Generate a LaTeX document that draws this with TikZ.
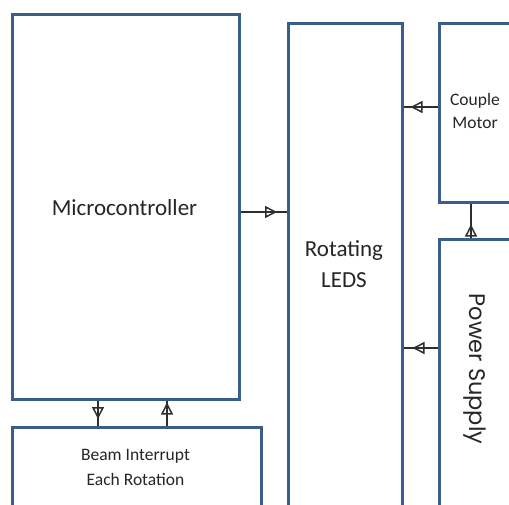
\documentclass[tikz,border=0pt]{standalone}
\usepackage{fontspec}
\setmainfont{Carlito}
\newfontfamily\psfont{Poppins}
\usetikzlibrary{arrows.meta,decorations.markings}
\definecolor{boxblue}{HTML}{3A5D8C}
\definecolor{linegray}{HTML}{2E2E2E}
\definecolor{txtgray}{HTML}{262626}
\tikzset{
  blockbox/.style={draw=boxblue, line width=2.5pt, fill=none, minimum width=#1, inner sep=0pt, anchor=north west},
  lbl/.style={text=txtgray, inner sep=0pt, align=center},
  conn/.style={draw=linegray, line width=1.6pt, postaction={decorate},
    decoration={markings, mark=at position #1 with {\arrow{Triangle[open, length=12pt, width=12pt, line width=1.5pt]}}}},
}
\begin{document}
\begin{tikzpicture}[x=1pt,y=-1pt]
\useasboundingbox (0,0) rectangle (509,504);
\fill[white] (0,0) rectangle (509,504);
\clip (0,0) rectangle (509,504);
% boxes
\node[blockbox=227pt, minimum height=385pt] (mc) at (11,13) {};
\node[blockbox=114pt, minimum height=510pt] (led) at (287,22) {};
\node[blockbox=100pt, minimum height=179pt] (cm) at (438,22) {};
\node[blockbox=100pt, minimum height=300pt] (ps) at (438,238) {};
\node[blockbox=249pt, minimum height=120pt] (bi) at (11,426) {};
% texts
\node[lbl, font=\fontsize{23}{31}\selectfont] (mct) at (124.5,208) {Microcontroller};
\node[lbl, font=\fontsize{23}{31}\selectfont, anchor=base] (ledt) at (344,287) {Rotating\\LEDS};
\node[lbl, font=\fontsize{17.5}{22.5}\selectfont, anchor=base] (cmt) at (475,128) {Couple\\Motor};
\node[lbl, font=\fontsize{17.5}{25}\selectfont, anchor=base] (bit) at (135.5,485) {Beam Interrupt\\Each Rotation};
\node[lbl, font=\psfont\fontsize{22.5}{25}\selectfont, rotate=-90] (pst) at (475,369) {Power Supply};
% connector anchor coordinates
\coordinate (ya) at (0,212);
\coordinate (yb) at (0,107);
\coordinate (yc) at (0,348);
\coordinate (xa) at (471,0);
\coordinate (xb) at (98,0);
\coordinate (xc) at (167,0);
% connectors
\draw[conn=-10pt] (mc.east |- ya) -- (led.west |- ya);
\draw[conn=-7pt] (cm.west |- yb) -- (led.east |- yb);
\draw[conn=-9pt] (ps.west |- yc) -- (led.east |- yc);
\draw[conn=-21pt] (ps.north -| xa) -- (cm.south -| xa);
\draw[conn=-7pt] (mc.south -| xb) -- (bi.north -| xb);
\draw[conn=-2pt] (bi.north -| xc) -- (mc.south -| xc);
\end{tikzpicture}
\end{document}
